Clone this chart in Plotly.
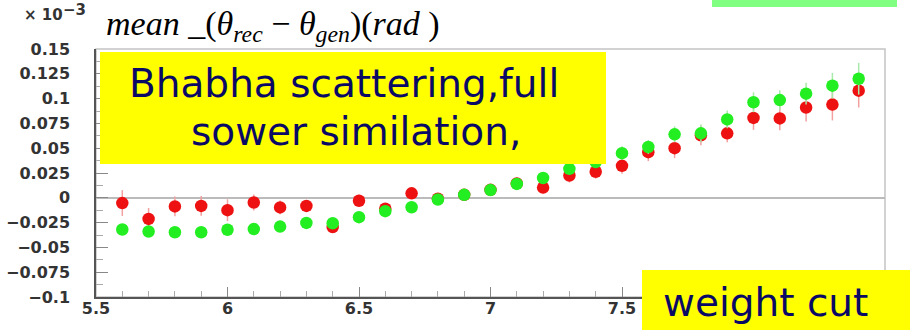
import plotly.graph_objects as go

# ---------------- data ----------------
x_vals = [5.6, 5.7, 5.8, 5.9, 6.0, 6.1, 6.2, 6.3, 6.4, 6.5,
          6.6, 6.7, 6.8, 6.9, 7.0, 7.1, 7.2, 7.3, 7.4, 7.5,
          7.6, 7.7, 7.8, 7.9, 8.0, 8.1, 8.2, 8.3, 8.4]

red_vals = [-0.0053, -0.0213, -0.0087, -0.0082, -0.0125, -0.0047, -0.0097, -0.0082, -0.0295, -0.0030,
            -0.0110, 0.0045, -0.0010, 0.0030, 0.0080, 0.0145, 0.0103, 0.0225, 0.0263, 0.0322,
            0.0460, 0.0500, 0.0630, 0.0650, 0.0805, 0.0800, 0.0910, 0.0940, 0.1080]
red_err = [0.013, 0.011, 0.010, 0.010, 0.011, 0.008, 0.007, 0.006, 0.006, 0.006,
           0.005, 0.005, 0.005, 0.005, 0.005, 0.006, 0.006, 0.007, 0.007, 0.008,
           0.009, 0.010, 0.010, 0.009, 0.012, 0.012, 0.014, 0.016, 0.017]

green_vals = [-0.0320, -0.0340, -0.0347, -0.0347, -0.0322, -0.0315, -0.0290, -0.0253, -0.0257, -0.0195,
              -0.0135, -0.0095, -0.0017, 0.0030, 0.0078, 0.0140, 0.0200, 0.0292, 0.0360, 0.0450,
              0.0512, 0.0640, 0.0650, 0.0790, 0.0963, 0.0985, 0.1050, 0.1130, 0.1200]
green_err = [0.004, 0.004, 0.004, 0.004, 0.004, 0.004, 0.004, 0.004, 0.004, 0.004,
             0.005, 0.005, 0.005, 0.005, 0.005, 0.005, 0.005, 0.006, 0.006, 0.007,
             0.007, 0.008, 0.009, 0.009, 0.010, 0.010, 0.011, 0.013, 0.016]

x_tickvals = [5.5, 6.0, 6.5, 7.0, 7.5]
x_ticktext = ["5.5", "6", "6.5", "7", "7.5"]
y_tickvals = [0.15, 0.125, 0.1, 0.075, 0.05, 0.025, 0.0, -0.025, -0.05, -0.075, -0.1]
y_ticktext = ["0.15", "0.125", "0.1", "0.075", "0.05", "0.025", "0",
              "\u22120.025", "\u22120.05", "\u22120.075", "\u22120.1"]

# ---------------- figure ----------------
fig = go.Figure()

fig.add_trace(go.Scatter(
    x=x_vals, y=red_vals, mode="markers",
    marker=dict(color="#ee1111", size=12.5, line=dict(width=0)),
    error_y=dict(type="data", array=red_err, color="#f2a0a0", thickness=1.5, width=0),
    showlegend=False))

fig.add_trace(go.Scatter(
    x=x_vals, y=green_vals, mode="markers",
    marker=dict(color="#22ee22", size=12.5, line=dict(width=0)),
    error_y=dict(type="data", array=green_err, color="#a8e8a8", thickness=1.5, width=0),
    showlegend=False))

L, R, T, B = 96, 25, 49, 33
W, H = 910, 330
pw, ph = W - L - R, H - T - B

def px(xp):
    return (xp - L) / pw

def py(yp):
    return (H - B - yp) / ph

tickfont = dict(family="DejaVu Sans", size=16, color="#333333", weight="bold")

fig.update_layout(
    width=W, height=H,
    margin=dict(l=L, r=R, t=T, b=B, pad=0, autoexpand=False),
    paper_bgcolor="white", plot_bgcolor="white",
    xaxis=dict(range=[5.5, 8.5], showgrid=False, zeroline=False, automargin=False,
               showline=True, linecolor="#555555", linewidth=1.5,
               tickvals=x_tickvals, ticktext=x_ticktext,
               ticks="inside", ticklen=10, tickcolor="#888888", tickwidth=1,
               minor=dict(ticks="inside", ticklen=6, dtick=0.1, tick0=5.5,
                          tickcolor="#aaaaaa", tickwidth=1, showgrid=False),
               tickfont=tickfont, ticklabelstandoff=-4),
    yaxis=dict(range=[-0.1, 0.15], showgrid=False, automargin=False,
               zeroline=True, zerolinecolor="#bbbbbb", zerolinewidth=1.5,
               showline=True, linecolor="#555555", linewidth=1.5,
               tickvals=y_tickvals, ticktext=y_ticktext,
               ticks="inside", ticklen=12, tickcolor="#888888", tickwidth=1,
               minor=dict(ticks="inside", ticklen=7, dtick=0.0125, tick0=0,
                          tickcolor="#aaaaaa", tickwidth=1, showgrid=False),
               tickfont=tickfont, ticklabelstandoff=21),
)

shapes = [
    dict(type="rect", xref="paper", yref="paper", x0=0, x1=1, y0=0, y1=1,
         line=dict(color="#c4c4c4", width=1.5), layer="below"),
    dict(type="rect", xref="paper", yref="paper", x0=px(100), x1=px(606), y0=py(164), y1=py(52),
         fillcolor="#ffff00", line=dict(width=0), layer="above"),
    dict(type="rect", xref="paper", yref="paper", x0=px(642), x1=px(912), y0=py(332), y1=py(270),
         fillcolor="#ffff00", line=dict(width=0), layer="above"),
    dict(type="rect", xref="paper", yref="paper", x0=px(712), x1=px(897), y0=py(7), y1=py(-2),
         fillcolor="#80ff80", line=dict(width=0), layer="above"),
]
fig.update_layout(shapes=shapes)

boxfont = dict(family="DejaVu Sans", size=39, color="#0a0a66")
annotations = [
    dict(text="Bhabha scattering,full", xref="paper", yref="paper", x=px(344), y=py(83),
         xanchor="center", yanchor="middle", showarrow=False, font=boxfont),
    dict(text="sower similation,", xref="paper", yref="paper", x=px(356), y=py(131),
         xanchor="center", yanchor="middle", showarrow=False, font=boxfont),
    dict(text="weight cut", xref="paper", yref="paper", x=px(765), y=py(302),
         xanchor="center", yanchor="middle", showarrow=False, font=boxfont),
    dict(text="<i>mean</i> _(<i>θ</i><sub><i>rec</i></sub> − <i>θ</i><sub><i>gen</i></sub>)(<i>rad</i> )",
         xref="paper", yref="paper", x=px(104), y=py(26), xanchor="left", yanchor="middle",
         showarrow=False, font=dict(family="Liberation Serif", size=34, color="black")),
    dict(text="× 10", xref="paper", yref="paper", x=px(23), y=py(15),
         xanchor="left", yanchor="middle", showarrow=False, borderpad=0,
         font=dict(family="DejaVu Sans", size=15, color="#333333", weight="bold")),
    dict(text="−3", xref="paper", yref="paper", x=px(62), y=py(0),
         xanchor="left", yanchor="top", showarrow=False, borderpad=0,
         font=dict(family="DejaVu Sans", size=15, color="#333333", weight="bold")),
]
fig.update_layout(annotations=annotations)

fig.write_html("out.html", config={"displayModeBar": False},
               post_script="document.body.style.margin='0';")
